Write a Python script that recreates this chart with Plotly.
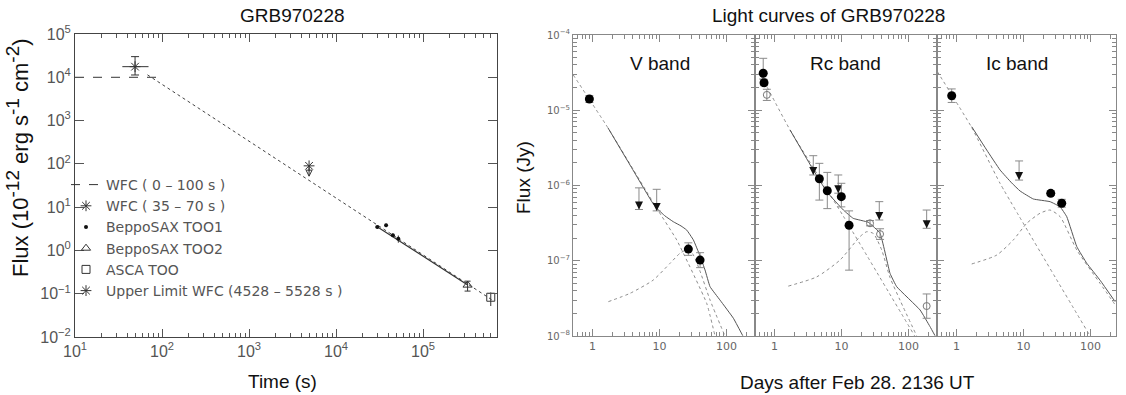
import plotly.graph_objects as go

W, H = 1126, 395

# ---------------- Left panel: GRB970228 X-ray flux ----------------
WFC_FLAT_T = [10, 100]
WFC_FLAT_F = [1e4, 1e4]

WFC_T = [49]
WFC_F = [1.76e4]
WFC_T_ERR_P = [21]
WFC_T_ERR_M = [14]
WFC_F_ERR_P = [1.24e4]
WFC_F_ERR_M = [0.63e4]

TOO1_T = [2.98e4, 3.76e4, 4.5e4, 5.2e4]
TOO1_F = [3.46, 3.8, 2.25, 1.86]
TOO1_T_ERR = [1.5e3, 1.5e3, 2.0e3, 2.0e3]
TOO1_F_ERR = [0.25, 0.35, 0.2, 0.35]

TOO2_T = [3.25e5]
TOO2_F = [0.158]
TOO2_F_ERR_P = [0.037]
TOO2_F_ERR_M = [0.043]

ASCA_T = [6.0e5]
ASCA_F = [0.083]
ASCA_F_ERR_P = [0.024]
ASCA_F_ERR_M = [0.031]

UL_T = [4.9e3]
UL_F = [90]
UL_TIP = [52]

DECAY_DOT_T = [68, 6.2e5]
DECAY_DOT_F = [1.14e4, 0.072]
DECAY_FIT_T = [3.0e4, 3.26e5]
DECAY_FIT_F = [3.5, 0.16]

LEFT_X_TICKS = [1e1, 1e2, 1e3, 1e4, 1e5]
LEFT_X_LABELS = ["10<sup>1</sup>", "10<sup>2</sup>", "10<sup>3</sup>", "10<sup>4</sup>", "10<sup>5</sup>"]
LEFT_Y_TICKS = [1e-2, 1e-1, 1e0, 1e1, 1e2, 1e3, 1e4, 1e5]
LEFT_Y_LABELS = ["10<sup>−2</sup>", "10<sup>−1</sup>", "10<sup>0</sup>", "10<sup>1</sup>",
                 "10<sup>2</sup>", "10<sup>3</sup>", "10<sup>4</sup>", "10<sup>5</sup>"]

# ---------------- Right panels: optical light curves (Jy) ----------------
V_DET_T = [0.90, 27.0, 40.4]
V_DET_F = [1.41e-5, 1.43e-7, 1.02e-7]
V_DET_EP = [0.15e-5, 0.30e-7, 0.26e-7]
V_DET_EM = [0.14e-5, 0.25e-7, 0.21e-7]
V_UL_T = [4.95, 9.1]
V_UL_TIP = [4.8e-7, 4.6e-7]
V_UL_TOP = [9.3e-7, 8.9e-7]
V_TOT_T = [1.71, 3.64, 7.74, 9.1, 12.1, 16.1, 21.0, 25.5, 32.1, 40.3, 47.9, 56.9, 80.2, 127, 175]
V_TOT_F = [5.81e-6, 1.87e-6, 6.04e-7, 4.98e-7, 3.94e-7, 3.30e-7, 2.90e-7, 2.56e-7, 1.89e-7,
           1.16e-7, 7.53e-8, 4.52e-8, 3.0e-8, 1.72e-8, 1.01e-8]
V_PL_T = [0.518, 1.71, 9.1, 18.1, 50.7, 67.5]
V_PL_F = [2.94e-5, 5.81e-6, 4.98e-7, 1.89e-7, 2.72e-8, 1.0e-8]
V_SN_T = [1.73, 3.64, 8.0, 14.4, 20.3, 25, 31, 40, 57, 95]
V_SN_F = [2.86e-8, 3.69e-8, 5.5e-8, 9.25e-8, 1.26e-7, 1.38e-7, 1.25e-7, 7.4e-8, 3.0e-8, 1.0e-8]

RC_DET_T = [0.68, 0.70, 4.68, 6.15, 9.96, 13.0]
RC_DET_F = [3.1e-5, 2.32e-5, 1.23e-6, 8.53e-7, 7.1e-7, 2.96e-7]
RC_DET_EP = [1.8e-5, 0.2e-5, 0.74e-6, 0.64e-6, 0.36e-6, 1.64e-7]
RC_DET_EM = [0.5e-5, 0.2e-5, 0.59e-6, 0.36e-6, 0.19e-6, 2.21e-7]
RC_OPEN_T = [0.77, 26.7, 37.7, 187]
RC_OPEN_F = [1.6e-5, 3.15e-7, 2.26e-7, 2.5e-8]
RC_OPEN_EP = [0.30e-5, 0.27e-7, 0.40e-7, 1.12e-8]
RC_OPEN_EM = [0.25e-5, 0.24e-7, 0.34e-7, 0.78e-8]
RC_UL_T = [3.8, 8.97, 36.7, 187]
RC_UL_TIP = [1.38e-6, 7.9e-7, 3.48e-7, 2.7e-7]
RC_UL_TOP = [2.49e-6, 1.38e-6, 6.1e-7, 4.72e-7]
RC_TOT_T = [1.71, 3.80, 6.09, 10.7, 15.0, 25.2, 37.7, 53.1, 66.8, 149, 210, 249]
RC_TOT_F = [5.47e-6, 1.61e-6, 8.2e-7, 4.72e-7, 3.66e-7, 3.24e-7, 2.32e-7, 6.8e-8, 4.52e-8,
            2.22e-8, 1.33e-8, 1.01e-8]
RC_PL_T = [0.645, 1.71, 10.7, 124]
RC_PL_F = [2.79e-5, 5.47e-6, 3.9e-7, 1.0e-8]
RC_SN_T = [1.61, 4.27, 9.5, 18.9, 23.8, 30, 39.9, 53, 74.8, 133]
RC_SN_F = [4.6e-8, 6.1e-8, 1.02e-7, 2.09e-7, 2.43e-7, 2.3e-7, 1.39e-7, 6.0e-8, 3.0e-8, 1.0e-8]

IC_DET_T = [0.85, 25.5, 37.2]
IC_DET_F = [1.56e-5, 7.87e-7, 5.8e-7]
IC_DET_EP = [0.36e-5, 0.6e-7, 0.75e-7]
IC_DET_EM = [0.29e-5, 0.5e-7, 0.65e-7]
IC_UL_T = [8.6]
IC_UL_TIP = [1.18e-6]
IC_UL_TOP = [2.12e-6]
IC_TOT_T = [1.69, 2.83, 4.47, 6.68, 8.9, 14.0, 24.9, 35.2, 44.2, 62.4, 88, 139, 233]
IC_TOT_F = [6.04e-6, 2.96e-6, 1.61e-6, 1.08e-6, 8.45e-7, 6.62e-7, 6.1e-7, 5.2e-7, 3.85e-7,
            1.54e-7, 9.25e-8, 5.5e-8, 2.86e-8]
IC_PL_T = [0.519, 1.69, 4.47, 98.6]
IC_PL_F = [3.26e-5, 5.9e-6, 1.07e-6, 1.0e-8]
IC_SN_T = [1.69, 3.99, 7.06, 11.2, 17.7, 24.9, 35.2, 62.4, 139, 233]
IC_SN_F = [9.06e-8, 1.19e-7, 1.89e-7, 3.15e-7, 4.28e-7, 4.72e-7, 3.85e-7, 1.39e-7, 5.0e-8, 2.6e-8]

RIGHT_X_TICKS = [1, 10, 100]
RIGHT_X_LABELS = ["1", "10", "100"]
RIGHT_Y_TICKS = [1e-8, 1e-7, 1e-6, 1e-5, 1e-4]
RIGHT_Y_LABELS = ["10<sup>−8</sup>", "10<sup>−7</sup>", "10<sup>−6</sup>", "10<sup>−5</sup>", "10<sup>−4</sup>"]
BAND_NAMES = ["V band", "Rc band", "Ic band"]


def px(x):
    return x / W


def py(y):
    return 1 - y / H


fig = go.Figure()

LC = "#333333"
# ---- left panel traces ----
fig.add_trace(go.Scatter(x=WFC_FLAT_T, y=WFC_FLAT_F, mode="lines",
                         line=dict(color=LC, width=1, dash="dash"),
                         name="WFC ( 0 – 100 s )", legendgroup="a"))
fig.add_trace(go.Scatter(x=WFC_T, y=WFC_F, mode="markers",
                         marker=dict(symbol="asterisk-open", size=9, color=LC, line=dict(width=1, color=LC)),
                         error_x=dict(type="data", symmetric=False, array=WFC_T_ERR_P, arrayminus=WFC_T_ERR_M,
                                      color=LC, thickness=1, width=0),
                         error_y=dict(type="data", symmetric=False, array=WFC_F_ERR_P, arrayminus=WFC_F_ERR_M,
                                      color=LC, thickness=1, width=4),
                         name="WFC ( 35 – 70 s )", legendgroup="b"))
fig.add_trace(go.Scatter(x=DECAY_DOT_T, y=DECAY_DOT_F, mode="lines",
                         line=dict(color="#444", width=1, dash="dot"), showlegend=False))
fig.add_trace(go.Scatter(x=DECAY_FIT_T, y=DECAY_FIT_F, mode="lines",
                         line=dict(color=LC, width=1.2), showlegend=False))
fig.add_trace(go.Scatter(x=TOO1_T, y=TOO1_F, mode="markers",
                         marker=dict(symbol="circle", size=4, color="#111"),
                         error_x=dict(type="data", array=TOO1_T_ERR, color=LC, thickness=1, width=0),
                         error_y=dict(type="data", array=TOO1_F_ERR, color=LC, thickness=1, width=0),
                         name="BeppoSAX TOO1", legendgroup="c"))
fig.add_trace(go.Scatter(x=TOO2_T, y=TOO2_F, mode="markers",
                         marker=dict(symbol="triangle-up-open", size=8, color=LC, line=dict(width=1)),
                         error_y=dict(type="data", symmetric=False, array=TOO2_F_ERR_P, arrayminus=TOO2_F_ERR_M,
                                      color=LC, thickness=1, width=3),
                         name="BeppoSAX TOO2", legendgroup="d"))
fig.add_trace(go.Scatter(x=ASCA_T, y=ASCA_F, mode="markers",
                         marker=dict(symbol="square-open", size=8, color=LC, line=dict(width=1)),
                         error_y=dict(type="data", symmetric=False, array=ASCA_F_ERR_P, arrayminus=ASCA_F_ERR_M,
                                      color=LC, thickness=1, width=0),
                         name="ASCA TOO", legendgroup="e"))
fig.add_trace(go.Scatter(x=UL_T, y=UL_F, mode="markers",
                         marker=dict(symbol="asterisk-open", size=9, color=LC, line=dict(width=1, color=LC)),
                         error_y=dict(type="data", symmetric=False, array=[0],
                                      arrayminus=[f - t for f, t in zip(UL_F, UL_TIP)],
                                      color=LC, thickness=1, width=0),
                         name="Upper Limit WFC (4528 – 5528 s )", legendgroup="f"))
fig.add_trace(go.Scatter(x=UL_T, y=UL_TIP, mode="markers",
                         marker=dict(symbol="arrow-down-open", size=6, color=LC, line=dict(width=1, color=LC)),
                         showlegend=False, legendgroup="f"))

# ---- right panels ----
panels = [
    (V_DET_T, V_DET_F, V_DET_EP, V_DET_EM, None, None, None, None,
     V_UL_T, V_UL_TIP, V_UL_TOP, V_TOT_T, V_TOT_F, V_PL_T, V_PL_F, V_SN_T, V_SN_F),
    (RC_DET_T, RC_DET_F, RC_DET_EP, RC_DET_EM, RC_OPEN_T, RC_OPEN_F, RC_OPEN_EP, RC_OPEN_EM,
     RC_UL_T, RC_UL_TIP, RC_UL_TOP, RC_TOT_T, RC_TOT_F, RC_PL_T, RC_PL_F, RC_SN_T, RC_SN_F),
    (IC_DET_T, IC_DET_F, IC_DET_EP, IC_DET_EM, None, None, None, None,
     IC_UL_T, IC_UL_TIP, IC_UL_TOP, IC_TOT_T, IC_TOT_F, IC_PL_T, IC_PL_F, IC_SN_T, IC_SN_F),
]
EC = "#8a8a8a"
for i, p in enumerate(panels):
    (dt, df, dep, dem, ot, of, oep, oem, ut, utip, utop, tt, tf, plt_, plf, snt, snf) = p
    xa = "x%d" % (i + 2)
    ya = "y%d" % (i + 2)
    fig.add_trace(go.Scatter(x=plt_, y=plf, mode="lines", xaxis=xa, yaxis=ya, showlegend=False,
                             line=dict(color="#8c8c8c", width=1, dash="dot", shape="spline", smoothing=0.4)))
    fig.add_trace(go.Scatter(x=snt, y=snf, mode="lines", xaxis=xa, yaxis=ya, showlegend=False,
                             line=dict(color="#8c8c8c", width=1, dash="dot", shape="spline", smoothing=0.6)))
    fig.add_trace(go.Scatter(x=tt, y=tf, mode="lines", xaxis=xa, yaxis=ya, showlegend=False,
                             line=dict(color="#555", width=1, shape="spline", smoothing=0.3)))
    fig.add_trace(go.Scatter(x=ut, y=utip, mode="markers", xaxis=xa, yaxis=ya, showlegend=False,
                             marker=dict(symbol="arrow-down", size=8, color="#111"),
                             error_y=dict(type="data", symmetric=False,
                                          array=[a - b for a, b in zip(utop, utip)], arrayminus=[0] * len(ut),
                                          color=EC, thickness=1, width=4)))
    if ot is not None:
        fig.add_trace(go.Scatter(x=ot, y=of, mode="markers", xaxis=xa, yaxis=ya, showlegend=False,
                                 marker=dict(symbol="circle-open", size=7, color="#777", line=dict(width=1)),
                                 error_y=dict(type="data", symmetric=False, array=oep, arrayminus=oem,
                                              color=EC, thickness=1, width=4)))
    fig.add_trace(go.Scatter(x=dt, y=df, mode="markers", xaxis=xa, yaxis=ya, showlegend=False,
                             marker=dict(symbol="circle", size=9, color="#000"),
                             error_y=dict(type="data", symmetric=False, array=dep, arrayminus=dem,
                                          color=EC, thickness=1, width=4)))

# ---- axes ----
left_minor_x = [k * 10 ** n for n in range(1, 6) for k in range(2, 10) if k * 10 ** n <= 7.1e5]
right_minor_x = [k / 10 for k in range(6, 10)] + [k * 10 ** n for n in range(0, 3) for k in range(2, 10)
                                                   if k * 10 ** n <= 260]
right_minor_y = [k * 10.0 ** n for n in range(-8, -4) for k in range(2, 10)]

tickfont_left = dict(family="Liberation Sans", size=16, color="#555")
tickfont_right = dict(family="DejaVu Sans", size=10, color="#666")
tickfont_right_x = dict(family="DejaVu Sans", size=11, color="#666")

layout = dict(
    width=W, height=H, autosize=False,
    margin=dict(l=0, r=0, t=0, b=0, pad=0, autoexpand=False),
    paper_bgcolor="white", plot_bgcolor="white",
    showlegend=True,
    legend=dict(x=px(66), y=py(169), xanchor="left", yanchor="top", bgcolor="rgba(0,0,0,0)",
                font=dict(family="DejaVu Sans", size=14, color="#555"), itemwidth=30,
                traceorder="grouped", tracegroupgap=0),
    xaxis=dict(domain=[px(75), px(497)], type="log", range=[1, 5.85], anchor="y",
               tickmode="array", tickvals=LEFT_X_TICKS, ticktext=LEFT_X_LABELS,
               ticks="inside", ticklen=8, tickcolor="#555", showline=True, linecolor="#444", mirror="ticks",
               minor=dict(tickmode="array", tickvals=left_minor_x, ticks="inside", ticklen=4, tickcolor="#555"),
               showgrid=False, zeroline=False, tickfont=tickfont_left, automargin=False),
    yaxis=dict(domain=[py(337), py(34)], type="log", range=[-2, 5], anchor="x",
               tickmode="array", tickvals=LEFT_Y_TICKS, ticktext=LEFT_Y_LABELS,
               ticks="inside", ticklen=9, tickcolor="#555", showline=True, linecolor="#444", mirror="ticks",
               showgrid=False, zeroline=False, tickfont=tickfont_left, automargin=False),
)

xdoms = [(573, 755), (755, 937), (937, 1116)]
xr = [[-0.29, 2.426], [-0.29, 2.426], [-0.29, 2.38]]
for i in range(3):
    n = i + 2
    layout["xaxis%d" % n] = dict(
        domain=[px(xdoms[i][0]), px(xdoms[i][1])], type="log", range=xr[i], anchor="y%d" % n,
        tickmode="array", tickvals=RIGHT_X_TICKS, ticktext=RIGHT_X_LABELS,
        ticks="inside", ticklen=7, tickcolor="#888", showline=True, linecolor="#888", mirror="ticks",
        minor=dict(tickmode="array", tickvals=right_minor_x, ticks="inside", ticklen=4, tickcolor="#888"),
        showgrid=False, zeroline=False, tickfont=tickfont_right_x, automargin=False)
    layout["yaxis%d" % n] = dict(
        domain=[py(336), py(35)], type="log", range=[-8, -4], anchor="x%d" % n,
        tickmode="array", tickvals=RIGHT_Y_TICKS, ticktext=RIGHT_Y_LABELS,
        ticks="inside", ticklen=7, tickcolor="#888", showline=True, linecolor="#888", mirror="ticks",
        minor=dict(tickmode="array", tickvals=right_minor_y, ticks="inside", ticklen=4, tickcolor="#888"),
        showgrid=False, zeroline=False, tickfont=tickfont_right, showticklabels=(i == 0), automargin=False)

fig.update_layout(**layout)

TF = "Liberation Sans"
ann = [
    dict(text="GRB970228", x=px(292.5), y=py(16), size=19),
    dict(text="Light curves of GRB970228", x=px(828), y=py(16), size=19),
    dict(text="Time (s)", x=px(282), y=py(381), size=19),
    dict(text="Days after Feb 28. 2136 UT", x=px(857), y=py(382), size=19),
]
for a in ann:
    fig.add_annotation(text=a["text"], x=a["x"], y=a["y"], xref="paper", yref="paper",
                       showarrow=False, xanchor="center", yanchor="middle",
                       font=dict(family=TF, size=a["size"], color="#111"))
SUP = '<sup><span style="font-size:19px">%s</span></sup>'
ylab = "Flux (10" + SUP % "-12" + " erg s" + SUP % "-1" + " cm" + SUP % "-2" + ")"
fig.add_annotation(text=ylab, x=px(17), y=py(158),
                   xref="paper", yref="paper", showarrow=False, textangle=-90,
                   xanchor="center", yanchor="middle", font=dict(family=TF, size=22, color="#111"))
fig.add_annotation(text="Flux (Jy)", x=px(524), y=py(178), xref="paper", yref="paper", showarrow=False,
                   textangle=-90, xanchor="center", yanchor="middle", font=dict(family=TF, size=19, color="#111"))
band_x = [660, 845, 1017]
for name, bx in zip(BAND_NAMES, band_x):
    fig.add_annotation(text=name, x=px(bx), y=py(64), xref="paper", yref="paper", showarrow=False,
                       xanchor="center", yanchor="middle", font=dict(family=TF, size=19, color="#111"))

fig.write_html("out.html",
               config={"displayModeBar": False, "staticPlot": True},
               post_script="document.body.style.margin='0';document.body.style.padding='0';"
                           "document.body.style.overflow='hidden';")
